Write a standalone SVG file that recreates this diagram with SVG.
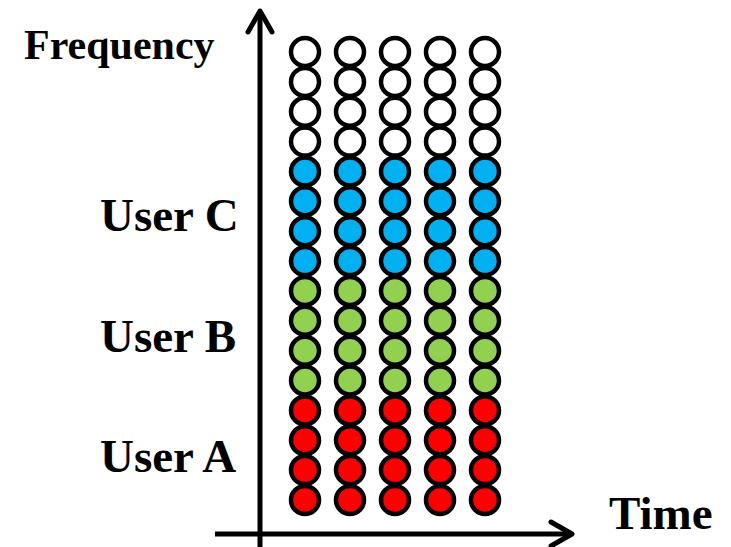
<svg xmlns="http://www.w3.org/2000/svg" width="731" height="547" viewBox="0 0 731 547">
<style>
.lbl{font-family:"Liberation Serif","Times New Roman",serif;font-weight:bold;fill:#000}
.c{stroke:#000;stroke-width:4.5}
.w{fill:#fff}.b{fill:#00B0F0}.g{fill:#92D050}.r{fill:#FF0000}
.ax{stroke:#000;stroke-width:5;fill:none;stroke-linecap:round;stroke-linejoin:round}
</style>
<rect width="731" height="547" fill="#fff"/>
<g id="axes">
<line class="ax" x1="260" y1="12" x2="260" y2="547" style="stroke-linecap:butt"/>
<polyline class="ax" points="248,32 260,11 272,32"/>
<line class="ax" x1="215" y1="534" x2="571" y2="534" style="stroke-linecap:butt"/>
<polyline class="ax" points="551,522 572,534 551,546"/>
</g>
<g id="labels">
<text class="lbl" x="24" y="59" font-size="42">Frequency</text>
<text class="lbl" x="100" y="231" font-size="47">User C</text>
<text class="lbl" x="100" y="352" font-size="47">User B</text>
<text class="lbl" x="100" y="472" font-size="47">User A</text>
<text class="lbl" x="609" y="529" font-size="47">Time</text>
</g>
<g id="grid">
<g id="col1">
<circle class="c w" cx="305" cy="52" r="14"/><circle class="c w" cx="305" cy="81.9" r="14"/><circle class="c w" cx="305" cy="111.7" r="14"/><circle class="c w" cx="305" cy="141.6" r="14"/>
<circle class="c b" cx="305" cy="171.5" r="14"/><circle class="c b" cx="305" cy="201.3" r="14"/><circle class="c b" cx="305" cy="231.2" r="14"/><circle class="c b" cx="305" cy="261.1" r="14"/>
<circle class="c g" cx="305" cy="290.9" r="14"/><circle class="c g" cx="305" cy="320.8" r="14"/><circle class="c g" cx="305" cy="350.7" r="14"/><circle class="c g" cx="305" cy="380.5" r="14"/>
<circle class="c r" cx="305" cy="410.4" r="14"/><circle class="c r" cx="305" cy="440.3" r="14"/><circle class="c r" cx="305" cy="470.1" r="14"/><circle class="c r" cx="305" cy="500" r="14"/>
</g>
<use href="#col1" id="col2" x="45"/>
<use href="#col1" id="col3" x="90"/>
<use href="#col1" id="col4" x="135"/>
<use href="#col1" id="col5" x="180"/>
</g>
</svg>
